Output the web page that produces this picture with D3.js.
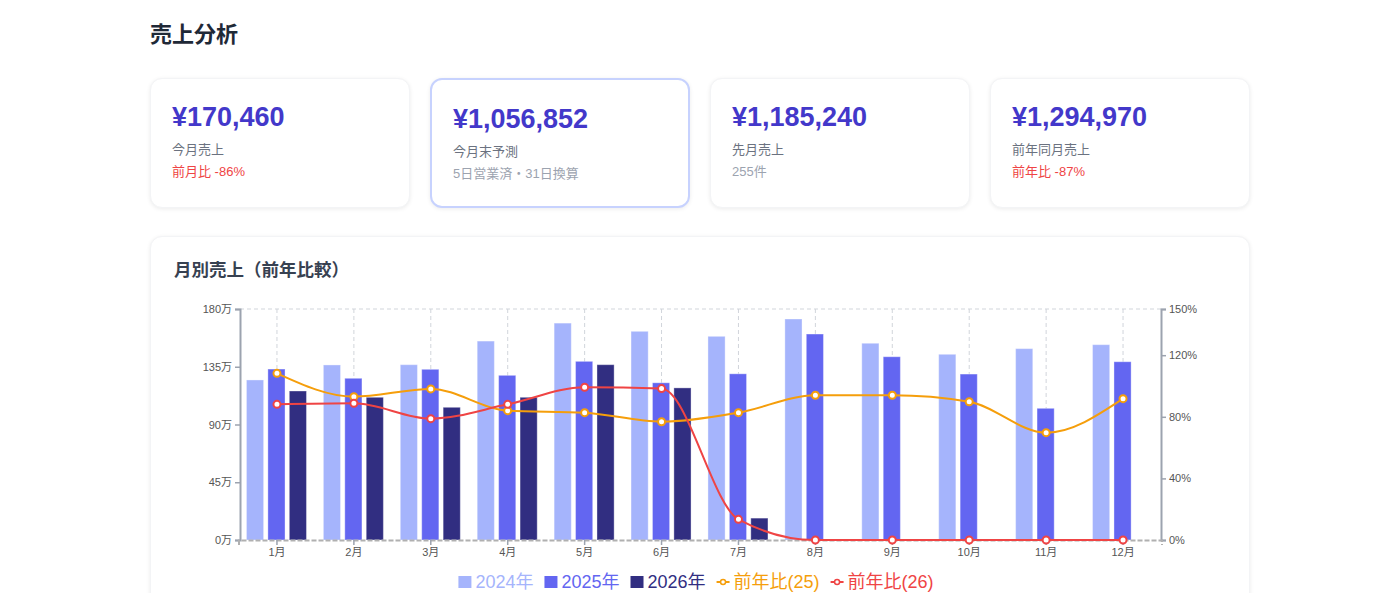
<!DOCTYPE html>
<html>
<head>
<meta charset="utf-8">
<title>売上分析</title>
<script src="https://cdnjs.cloudflare.com/ajax/libs/d3/7.8.5/d3.min.js"></script>
<style>
    body {
        margin: 0;
        background: #fff;
        font-family: "Liberation Sans", Arial, "Noto Sans CJK JP", sans-serif;
    }
    .wrap {
        width: 1100px;
        margin: 0 auto;
        padding-top: 18px;
    }
    h1 {
        margin: 0;
        font-size: 22px;
        line-height: 34px;
        color: #1f2937;
        font-weight: bold;
    }
    .cards {
        display: flex;
        gap: 20px;
        margin-top: 26px;
    }
    .card {
        box-sizing: border-box;
        width: 260px;
        height: 130px;
        background: #fff;
        border: 1px solid #f3f4f6;
        border-radius: 12px;
        box-shadow: 0 1px 4px rgba(0,0,0,0.08);
        padding: 22px 21px;
    }
    .card.hl { border: 2px solid #c7d2fe; padding: 23px 21px; }
    .val { font-size: 27px; line-height: 32px; font-weight: bold; color: #4338ca; }
    .lbl { font-size: 13px; line-height: 20px; color: #6b7280; margin-top: 7px; }
    .sub { font-size: 13px; line-height: 20px; margin-top: 2px; color: #9ca3af; }
    .sub.neg { color: #ef4444; }
    .chartcard {
        position: relative;
        margin-top: 28px;
        height: 420px;
        background: #fff;
        border: 1px solid #f3f4f6;
        border-radius: 12px;
        box-shadow: 0 1px 4px rgba(0,0,0,0.08);
    }
    .chartcard h2 {
        margin: 0;
        position: absolute;
        left: 23px;
        top: 21px;
        font-size: 17.5px;
        line-height: 24px;
        color: #374151;
    }
    #chart { position: absolute; left: -1px; top: 53px; }
</style>
</head>
<body>
<div class="wrap">
    <h1>売上分析</h1>
    <div class="cards">
        <div class="card"><div class="val">¥170,460</div><div class="lbl">今月売上</div><div class="sub neg">前月比 -86%</div></div>
        <div class="card hl"><div class="val">¥1,056,852</div><div class="lbl">今月末予測</div><div class="sub">5日営業済・31日換算</div></div>
        <div class="card"><div class="val">¥1,185,240</div><div class="lbl">先月売上</div><div class="sub">255件</div></div>
        <div class="card"><div class="val">¥1,294,970</div><div class="lbl">前年同月売上</div><div class="sub neg">前年比 -87%</div></div>
    </div>
    <div class="chartcard">
        <h2>月別売上（前年比較）</h2>
        <svg id="chart"></svg>
    </div>
</div>
<script>
    var months = ["1月", "2月", "3月", "4月", "5月", "6月", "7月", "8月", "9月", "10月", "11月", "12月"];
    var sales2024 = [1247000, 1364000, 1366000, 1550000, 1690000, 1626000, 1587000, 1722000, 1533000, 1447000, 1491000, 1522000];
    var sales2025 = [1332000, 1260000, 1330000, 1283000, 1392000, 1225000, 1294970, 1605000, 1428000, 1293000, 1026000, 1389000];
    var sales2026 = [1161000, 1112000, 1034000, 1112000, 1366000, 1185240, 170460, null, null, null, null, null];
    var yoy25 = [108.2, 93.1, 98.1, 84.0, 82.7, 76.8, 82.7, 94.0, 94.0, 89.8, 69.7, 91.8];
    var yoy26 = [88.1, 88.8, 78.8, 88.1, 99.2, 98.3, 13.4, 0, 0, 0, 0, 0];
    var leftTicks = [0, 450000, 900000, 1350000, 1800000];
    var rightTicks = [0, 40, 80, 120, 150];

    var years = ["2024年", "2025年", "2026年"];
    var barColors = ["#a5b4fc", "#6366f1", "#312e81"];
    var lineSeries = [
        {name: "前年比(25)", values: yoy25, color: "#f59e0b"},
        {name: "前年比(26)", values: yoy26, color: "#ef4444"}
    ];

    var W = 1100, H = 320;
    var margin = {top: 19, right: 89, bottom: 70, left: 90};
    var width = W - margin.left - margin.right,
        height = H - margin.top - margin.bottom;

    var svg = d3.select("#chart").attr("width", W).attr("height", H);
    var g = svg.append("g").attr("transform", "translate(" + margin.left + "," + margin.top + ")");

    var x = d3.scaleBand().domain(months).range([-1.5, width + 0.5]);
    var bw = x.bandwidth();
    var x1 = d3.scaleBand().domain(years).range([bw / 2 - 30.5, bw / 2 + 29.5]).paddingInner(0.2);
    var y = d3.scaleLinear().domain([0, 1800000]).range([height, 0]);
    var y2 = d3.scaleLinear().domain([0, 150]).range([height, 0]);

    // grid
    g.append("line").attr("x1", 0).attr("x2", width).attr("y1", 0).attr("y2", 0)
        .attr("stroke", "#d1d5db").attr("stroke-dasharray", "4,3");
    g.selectAll(".vgrid").data(months).enter().append("line")
        .attr("x1", d => x(d) + bw / 2).attr("x2", d => x(d) + bw / 2)
        .attr("y1", 0).attr("y2", height)
        .attr("stroke", "#d1d5db").attr("stroke-dasharray", "4,3");

    // bars
    var allSales = [sales2024, sales2025, sales2026];
    allSales.forEach(function(vals, si) {
        g.selectAll(".bar" + si)
            .data(vals.map((v, i) => ({m: months[i], v: v})).filter(d => d.v != null))
            .enter().append("rect")
            .attr("x", d => x(d.m) + x1(years[si]))
            .attr("width", x1.bandwidth())
            .attr("y", d => y(d.v))
            .attr("height", d => height - y(d.v))
            .attr("fill", barColors[si])
            .attr("stroke", "rgba(255,255,255,0.35)")
            .attr("stroke-width", 1);
    });

    // axes
    var axisColor = "#9ca3af";
    function styleAxis(sel) {
        sel.select(".domain").attr("stroke", axisColor).attr("stroke-width", 2);
        sel.selectAll(".tick line").attr("stroke", axisColor).attr("stroke-width", 1.5);
        sel.selectAll("text").attr("fill", "#555").style("font-size", "11px")
            .style("font-family", "'Liberation Sans', Arial, 'Noto Sans CJK JP', sans-serif");
    }
    var yAxis = g.append("g")
        .call(d3.axisLeft(y).tickValues(leftTicks).tickSizeOuter(0).tickSize(5).tickPadding(3)
            .tickFormat(d => (d / 10000) + "万"));
    styleAxis(yAxis);
    var yAxis2 = g.append("g").attr("transform", "translate(" + width + ",0)")
        .call(d3.axisRight(y2).tickValues(rightTicks).tickSizeOuter(0).tickSize(5).tickPadding(3)
            .tickFormat(d => d + "%"));
    styleAxis(yAxis2);
    var xAxis = g.append("g").attr("transform", "translate(0," + height + ")")
        .call(d3.axisBottom(x).tickSizeOuter(0).tickSize(5).tickPadding(3));
    styleAxis(xAxis);
    xAxis.select(".domain").attr("stroke", "#b0b0b0").attr("stroke-dasharray", "5,2");

    // lines
    var line = d3.line()
        .x((d, i) => x(months[i]) + bw / 2)
        .y(d => y2(d))
        .curve(d3.curveMonotoneX);
    lineSeries.forEach(function(s) {
        g.append("path").datum(s.values)
            .attr("fill", "none").attr("stroke", s.color).attr("stroke-width", 2)
            .attr("d", line);
        g.selectAll(null).data(s.values).enter().append("circle")
            .attr("cx", (d, i) => x(months[i]) + bw / 2)
            .attr("cy", d => y2(d))
            .attr("r", 3.5)
            .attr("fill", "#fff").attr("stroke", s.color).attr("stroke-width", 2);
    });

    // legend
    var legend = svg.append("g");
    var items = years.map((n, i) => ({name: n, color: barColors[i], type: "bar"}))
        .concat(lineSeries.map(s => ({name: s.name, color: s.color, type: "line"})));
    var cx = 0;
    items.forEach(function(it) {
        var lg = legend.append("g");
        if (it.type === "bar") {
            lg.append("rect").attr("x", 0).attr("y", -12).attr("width", 13).attr("height", 12).attr("fill", it.color);
        } else {
            lg.append("line").attr("x1", 0).attr("x2", 13).attr("y1", -6).attr("y2", -6)
                .attr("stroke", it.color).attr("stroke-width", 2);
            lg.append("circle").attr("cx", 6.5).attr("cy", -6).attr("r", 2.5)
                .attr("fill", "#fff").attr("stroke", it.color).attr("stroke-width", 1.5);
        }
        var t = lg.append("text").attr("x", 17).attr("y", 0).text(it.name)
            .attr("fill", it.color).style("font-size", "18px")
            .style("font-family", "'Liberation Sans', Arial, 'Noto Sans CJK JP', sans-serif");
        var w = 17 + t.node().getComputedTextLength();
        lg.attr("transform", "translate(" + cx + ",0)");
        cx += w + 11;
    });
    var total = cx - 11;
    legend.attr("transform", "translate(" + (546 - total / 2) + "," + (H - 22) + ")");
</script>
</body>
</html>
